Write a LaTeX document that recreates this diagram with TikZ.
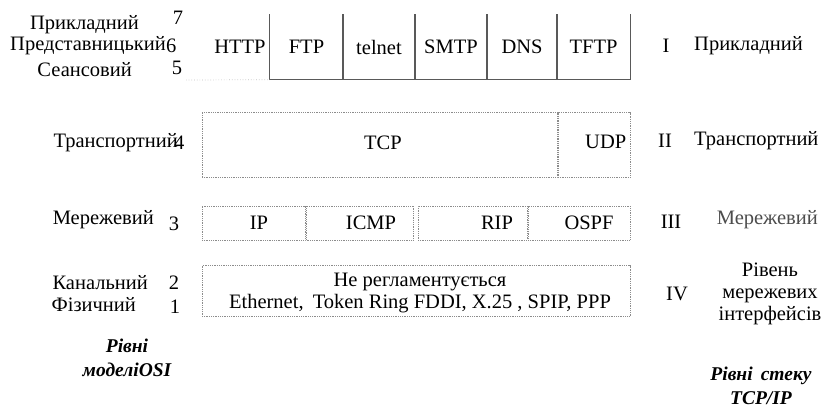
\documentclass[tikz,border=0pt]{standalone}
\usepackage{fontspec}
\setmainfont{Liberation Serif}
\begin{document}
\begin{tikzpicture}[x=1pt,y=-1pt,
  lbl/.style={inner sep=0pt,font=\fontsize{20.5}{22}\selectfont},
  bx/.style={draw=black!45,densely dotted,line width=0.8pt,inner sep=0pt},
  appln/.style={draw=black!65,line width=0.9pt},
  ital/.style={inner sep=0pt,font=\fontsize{19.5}{24}\selectfont\bfseries\itshape,align=center}]
\useasboundingbox (0,0) rectangle (826,412);
% left OSI labels
\node[lbl,anchor=east] (l7) at (139,25) {Прикладний};
\node[lbl] (n7) at (178,18) {7};
\node[lbl,anchor=east] (l6) at (166,46) {Представницький};
\node[lbl,anchor=west] (n6) at (166,46) {6};
\node[lbl,anchor=east] (l5) at (132,70) {Сеансовий};
\node[lbl] (n5) at (177,68) {5};
\node[lbl,anchor=east] (l4) at (178,143) {Транспортний};
\node[lbl,anchor=west] (n4) at (174,143) {4};
\node[lbl,anchor=east] (l3) at (154,220) {Мережевий};
\node[lbl] (n3) at (174,224) {3};
\node[lbl,anchor=east] (l2) at (148,283) {Канальний};
\node[lbl] (n2) at (174,283) {2};
\node[lbl,anchor=east] (l1) at (136,305) {Фізичний};
\node[lbl] (n1) at (175,307) {1};
\node[ital] (osi) at (127,358) {Рівні\\моделіOSI};
% application layer
\node[inner sep=0pt,minimum width=60pt,minimum height=65pt] (http) at (240,47) {};
\node[lbl] at (http) {HTTP};
\foreach \nm/\txt/\xa/\xb in {ftp/FTP/270/343,telnet/telnet/343/415,smtp/SMTP/415/487,dns/DNS/487/557,tftp/TFTP/557/630}{
  \node[inner sep=0pt,minimum width={\xb-\xa},minimum height=65pt] (\nm) at ({(\xa+\xb)/2},47) {};
  \node[lbl] at (\nm) {\txt};
  \draw[appln] (\nm.north west) |- (\nm.south east) -- (\nm.north east);
}
\coordinate (dl) at (186,80);
\draw[black!25,dotted,line width=0.7pt] (dl) -- (ftp.south west);
\node[lbl] (r1a) at (666,46) {I};
\node[lbl,anchor=west] (r1) at (694,46) {Прикладний};
% transport
\node[bx,minimum width=355pt,minimum height=65pt] (tcp) at (379.5,145) {};
\node[lbl] at (383,143) {TCP};
\node[bx,minimum width=72pt,minimum height=65pt] (udp) at (594,145) {};
\node[lbl,anchor=east] at ([xshift=-4pt,yshift=3pt]udp.east) {UDP};
\node[lbl] (r2a) at (665,141) {II};
\node[lbl,anchor=west] (r2) at (694,141) {Транспортний};
% network
\node[bx,minimum width=103pt,minimum height=34pt] (ip) at (253.5,223) {};
\node[lbl] at (259,223) {IP};
\node[bx,minimum width=107pt,minimum height=34pt] (icmp) at (360,223) {};
\node[lbl] at (371,223) {ICMP};
\node[bx,minimum width=109pt,minimum height=34pt] (rip) at (472.5,223) {};
\node[lbl] at (497,223) {RIP};
\node[bx,minimum width=102pt,minimum height=34pt] (ospf) at (579,223) {};
\node[lbl] at (589,223) {OSPF};
\node[lbl] (r3a) at (671,222) {III};
\node[lbl,anchor=east,text=black!70] (r3b) at (818,220) {Мережевий};
% link
\node[bx,minimum width=428pt,minimum height=51pt,align=center] (link) at (416,291) {};
\node[lbl,align=center] at (420,293) {Не регламентується\\Ethernet,\;\,Token Ring FDDI, X.25 , SPIP, PPP};
\node[lbl] (r4) at (677,294) {IV};
\node[lbl,align=center] (r4b) at (770,294) {Рівень\\мережевих\\інтерфейсів};
\node[ital] (tcpip) at (761,386) {Рівні\, стеку\\TCP/IP};
\end{tikzpicture}
\end{document}
